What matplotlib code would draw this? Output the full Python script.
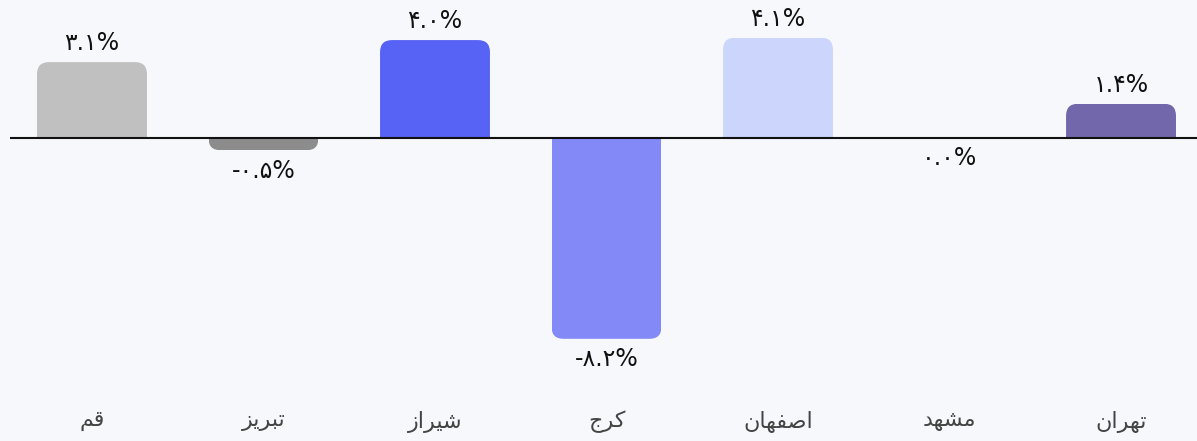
#!/usr/bin/env python3

import numpy as np
import matplotlib
matplotlib.use("Agg")
import matplotlib.pyplot as plt
from matplotlib.patches import FancyBboxPatch

# Data (right-to-left chart: first city is drawn on the right)
cities = ["تهران", "مشهد", "اصفهان", "کرج", "شیراز", "تبریز", "قم"]
changes = [1.4, 0.0, 4.1, -8.2, 4.0, -0.5, 3.1]
colors = ["#7367AB", "#8C8C8C", "#CCD6FC", "#8389F7", "#5763F5", "#8C8C8C", "#C0C0C0"]

# Minimal Arabic/Persian shaping, since matplotlib does not do it
FORMS = {
    "ا": ("\uFE8D", "\uFE8E", None, None),
    "ب": ("\uFE8F", "\uFE90", "\uFE91", "\uFE92"),
    "ت": ("\uFE95", "\uFE96", "\uFE97", "\uFE98"),
    "ج": ("\uFE9D", "\uFE9E", "\uFE9F", "\uFEA0"),
    "د": ("\uFEA9", "\uFEAA", None, None),
    "ر": ("\uFEAD", "\uFEAE", None, None),
    "ز": ("\uFEAF", "\uFEB0", None, None),
    "ش": ("\uFEB5", "\uFEB6", "\uFEB7", "\uFEB8"),
    "ص": ("\uFEB9", "\uFEBA", "\uFEBB", "\uFEBC"),
    "ف": ("\uFED1", "\uFED2", "\uFED3", "\uFED4"),
    "ق": ("\uFED5", "\uFED6", "\uFED7", "\uFED8"),
    "م": ("\uFEE1", "\uFEE2", "\uFEE3", "\uFEE4"),
    "ن": ("\uFEE5", "\uFEE6", "\uFEE7", "\uFEE8"),
    "ه": ("\uFEE9", "\uFEEA", "\uFEEB", "\uFEEC"),
    "ی": ("\uFBFC", "\uFBFD", "\uFEF3", "\uFEF4"),
    "ک": ("\uFB8E", "\uFB8F", "\uFB90", "\uFB91"),
}


def shape(word):
    out = []
    for i, ch in enumerate(word):
        iso, fin, ini, med = FORMS[ch]
        prev_joins = i > 0 and FORMS[word[i - 1]][2] is not None
        next_joins = i < len(word) - 1 and ini is not None
        if prev_joins and next_joins:
            out.append(med)
        elif prev_joins:
            out.append(fin)
        elif next_joins:
            out.append(ini)
        else:
            out.append(iso)
    return "".join(reversed(out))


def fa_digits(s):
    return s.translate(str.maketrans("0123456789", "۰۱۲۳۴۵۶۷۸۹"))


bg = "#F7F8FC"
fig = plt.figure(figsize=(11.97, 4.41), dpi=100, facecolor=bg)
ax = fig.add_axes([10 / 1197, 51 / 441, 1187 / 1197, 370 / 441])
ax.set_facecolor(bg)

x = np.arange(len(cities))
width = 0.641
ax.set_xlim(6.478, -0.443)
ax.set_ylim(-10.29, 4.82)

bars = ax.bar(x, changes, width=width, color="none", edgecolor="none")

# rounded outer end, square end at the zero line
r = 0.07
aspect = (15.11 / 370) / (6.921 / 1187)
for rect, val, col in zip(bars, changes, colors):
    if val == 0:
        continue
    h = abs(val)
    ext = 2 * r * aspect
    y0 = -ext if val > 0 else val
    patch = FancyBboxPatch((rect.get_x(), y0), width, h + ext,
                           boxstyle=f"round,pad=0,rounding_size={r}",
                           mutation_aspect=aspect, facecolor=col,
                           edgecolor="none", zorder=2)
    ax.add_patch(patch)
    patch.set_clip_path(rect)

for xi, val in zip(x, changes):
    label = fa_digits(f"{val:.1f}") + "%"
    if val > 0:
        ax.annotate(label, (xi, val), xytext=(0, 5), textcoords="offset points",
                    ha="center", va="bottom", fontsize=17, color="#111111")
    else:
        ax.annotate(label, (xi, val), xytext=(0, -6), textcoords="offset points",
                    ha="center", va="top", fontsize=17, color="#111111")

ax.axhline(0, color="#111111", linewidth=1.5, zorder=3)

ax.set_xticks(x)
ax.set_xticklabels([shape(c) for c in cities], fontsize=16, color="#444444")
ax.tick_params(axis="x", length=0, pad=15)
ax.set_yticks([])
for s in ax.spines.values():
    s.set_visible(False)

fig.savefig("out.png", dpi=100, facecolor=bg)
